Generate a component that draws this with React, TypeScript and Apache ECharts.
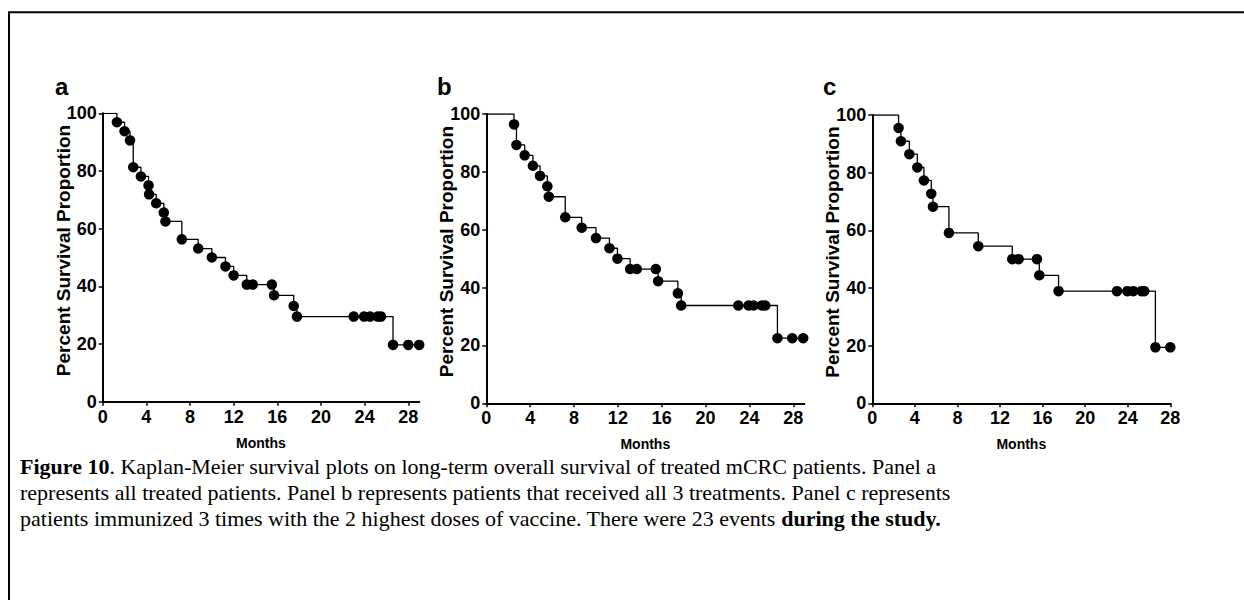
import React, { useEffect, useRef } from "react";
import * as echarts from "echarts";

// ---------- data ----------
const monthTicks = [0, 4, 8, 12, 16, 20, 24, 28];
const percentTicks = [0, 20, 40, 60, 80, 100];

// Panel a: all treated patients
const timeA = [1.3, 2.0, 2.5, 2.8, 3.5, 4.2, 4.25, 4.9, 5.6, 5.75, 7.25, 8.75, 10.0, 11.25, 12.0, 13.2, 13.75, 15.5, 15.7, 17.5, 17.8, 23.0, 23.95, 24.5, 25.2, 25.5, 26.6, 28.0, 29.0];
const survA = [96.9, 93.8, 90.6, 81.3, 78.1, 75.0, 71.9, 68.8, 65.6, 62.5, 56.3, 53.1, 50.0, 46.9, 43.8, 40.6, 40.6, 40.6, 36.9, 33.2, 29.5, 29.5, 29.5, 29.5, 29.5, 29.5, 19.7, 19.7, 19.7];

// Panel b: received all 3 treatments
const timeB = [2.53, 2.75, 3.5, 4.25, 4.9, 5.57, 5.7, 7.2, 8.7, 10.0, 11.23, 11.96, 13.12, 13.72, 15.46, 15.67, 17.47, 17.77, 22.98, 23.92, 24.38, 25.14, 25.44, 26.55, 27.9, 28.9];
const survB = [96.4, 89.3, 85.7, 82.1, 78.6, 75.0, 71.4, 64.3, 60.7, 57.1, 53.6, 50.0, 46.4, 46.4, 46.4, 42.2, 38.0, 33.8, 33.8, 33.8, 33.8, 33.8, 33.8, 22.5, 22.5, 22.5];

// Panel c: immunized 3 times with the 2 highest doses
const timeC = [2.47, 2.69, 3.48, 4.23, 4.85, 5.54, 5.7, 7.2, 9.96, 13.15, 13.75, 15.47, 15.69, 17.5, 22.99, 23.96, 24.52, 25.3, 25.55, 26.6, 28.0];
const survC = [95.5, 90.9, 86.4, 81.8, 77.3, 72.7, 68.2, 59.1, 54.5, 50.0, 50.0, 50.0, 44.4, 38.9, 38.9, 38.9, 38.9, 38.9, 38.9, 19.4, 19.4];

const panelLetters = ["a", "b", "c"];
const xAxisMax = [29, 29, 28];
const xAxisName = "Months";
const yAxisName = "Percent Survival Proportion";

const captionLine1 = "{b|Figure 10}. Kaplan-Meier survival plots on long-term overall survival of treated mCRC patients. Panel a";
const captionLine2 = "represents all treated patients. Panel b represents patients that received all 3 treatments. Panel c represents";
const captionLine3 = "patients immunized 3 times with the 2 highest doses of vaccine. There were 23 events {b|during the study.}";

// ---------- layout ----------
const layouts = [
  { left: 102.7, top: 113.3, width: 316.5, height: 288.4, letterX: 55 },
  { left: 486.3, top: 114, width: 318, height: 289.3, letterX: 437 },
  { left: 872.3, top: 115, width: 298, height: 288.3, letterX: 823 },
];

const tickFont = "'Liberation Sans Narrow', 'Liberation Sans', Arial, sans-serif";
const sansFont = "'Liberation Sans', Arial, sans-serif";
const serifFont = "'Liberation Serif', 'Times New Roman', serif";

export default function App() {
  const ref = useRef<HTMLDivElement>(null);

  useEffect(() => {
    if (!ref.current) return;
    const chart = echarts.init(ref.current, null, { renderer: "svg" });
    const sets = [
      { t: timeA, s: survA },
      { t: timeB, s: survB },
      { t: timeC, s: survC },
    ];

    const grids: any[] = [];
    const xAxes: any[] = [];
    const yAxes: any[] = [];
    const series: any[] = [];

    sets.forEach((d, i) => {
      const L = layouts[i];
      grids.push({ left: L.left, top: L.top, width: L.width, height: L.height, containLabel: false });
      xAxes.push({
        type: "value",
        gridIndex: i,
        min: 0,
        max: xAxisMax[i],
        interval: 4,
        name: xAxisName,
        nameLocation: "middle",
        nameGap: 34,
        nameMoveOverlap: false,
        nameTextStyle: { fontFamily: sansFont, fontWeight: "bold", fontSize: 14, color: "#000", verticalAlign: "top" },
        axisLine: { show: true, onZero: false, lineStyle: { color: "#000", width: 2 } },
        axisTick: { show: true, customValues: monthTicks, length: 4, inside: false, lineStyle: { color: "#000", width: 1.5 } },
        axisLabel: { customValues: monthTicks, margin: 6, fontFamily: tickFont, fontWeight: "bold", fontSize: 18, color: "#000" },
        splitLine: { show: false },
      });
      yAxes.push({
        type: "value",
        gridIndex: i,
        min: 0,
        max: 100,
        interval: 20,
        name: yAxisName,
        nameLocation: "middle",
        nameRotate: 90,
        nameGap: 30,
        nameMoveOverlap: false,
        nameTextStyle: { fontFamily: sansFont, fontWeight: "bold", fontSize: 19, color: "#000", padding: [0, 0, 0, 14] },
        axisLine: { show: true, onZero: false, lineStyle: { color: "#000", width: 2 } },
        axisTick: { show: true, customValues: percentTicks, length: 4, inside: false, lineStyle: { color: "#000", width: 1.5 } },
        axisLabel: { customValues: percentTicks, margin: 6, fontFamily: tickFont, fontWeight: "bold", fontSize: 18, color: "#000" },
        splitLine: { show: false },
      });
      const lineData = [[0, 100], ...d.t.map((t, k) => [t, d.s[k]])];
      series.push({
        type: "line",
        xAxisIndex: i,
        yAxisIndex: i,
        step: "end",
        data: lineData,
        showSymbol: false,
        symbol: "none",
        lineStyle: { color: "#000", width: 1.3 },
        z: 2,
      });
      series.push({
        type: "scatter",
        xAxisIndex: i,
        yAxisIndex: i,
        data: d.t.map((t, k) => [t, d.s[k]]),
        symbol: "circle",
        symbolSize: 10.5,
        itemStyle: { color: "#000", opacity: 1 },
        z: 3,
      });
    });

    const graphic: any[] = [
      {
        type: "polyline",
        shape: { points: [[9, 600], [9, 12.3], [1244, 12.3]] },
        style: { stroke: "#000", lineWidth: 2, fill: null },
      },
      ...panelLetters.map((l, i) => ({
        type: "text",
        x: layouts[i].letterX,
        y: 98,
        style: { text: l, fontFamily: sansFont, fontWeight: "bold", fontSize: 24, fill: "#000", verticalAlign: "bottom" },
      })),
      ...[captionLine1, captionLine2, captionLine3].map((txt, i) => ({
        type: "text",
        x: 20,
        y: 466 + i * 26,
        style: {
          text: txt,
          fontFamily: serifFont,
          fontSize: 22,
          fill: "#000",
          verticalAlign: "middle",
          rich: { b: { fontFamily: serifFont, fontSize: 22, fontWeight: "bold", fill: "#000" } },
        },
      })),
    ];

    chart.setOption({
      animation: false,
      backgroundColor: "#fff",
      grid: grids,
      xAxis: xAxes,
      yAxis: yAxes,
      series,
      graphic,
    });
    return () => chart.dispose();
  }, []);

  return (
    <div
      ref={ref}
      style={{ position: "fixed", left: 0, top: 0, width: 1244, height: 600, background: "#fff" }}
    />
  );
}
